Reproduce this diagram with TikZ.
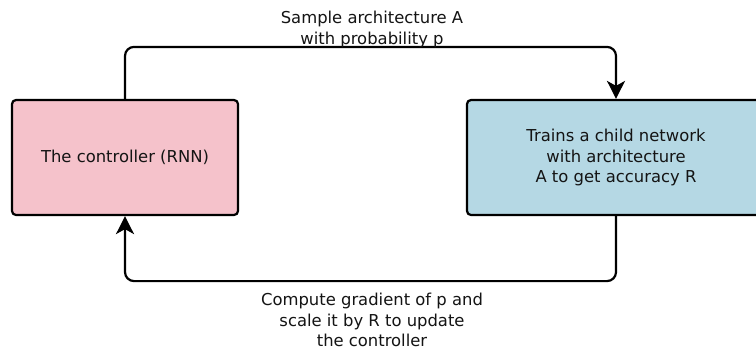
\documentclass[tikz,border=0pt]{standalone}
\usepackage{fontspec}
\setmainfont{DejaVu Sans}
\usetikzlibrary{arrows.meta}
\definecolor{pinkfill}{RGB}{245,194,203}
\definecolor{bluefill}{RGB}{181,216,228}
\definecolor{inkcol}{RGB}{20,20,20}
\tikzset{
  box/.style={draw=black, line width=2.2bp, rounded corners=4bp, inner sep=0pt,
    minimum height=115bp, align=center, text=inkcol,
    font=\fontsize{16.4bp}{20.5bp}\selectfont},
  conn/.style={draw=black, line width=2.2bp, rounded corners=9bp,
    -{Stealth[length=18bp,width=18bp,inset=5bp]}},
  lbl/.style={align=center, inner sep=0pt, text=inkcol,
    font=\fontsize{16.4bp}{20.5bp}\selectfont}
}
\begin{document}
\begin{tikzpicture}[x=1bp,y=-1bp]
\clip (0,0) rectangle (756,349);
\fill[white] (0,0) rectangle (756,349);
\node[box, fill=pinkfill, minimum width=226bp] (ctrl) at (125,157.5) {The controller (RNN)};
\node[box, fill=bluefill, minimum width=298bp] (child) at (616,157.5) {Trains a child network\\with architecture\\A to get accuracy R};
\draw[conn] (ctrl.north) -- ++(0,-52) -| (child.north);
\draw[conn] (child.south) -- ++(0,65) -| (ctrl.south);
\node[lbl, anchor=base] (toplbl) at (372,44) {Sample architecture A\\with probability p};
\node[lbl, anchor=base] (botlbl) at (372,346.5) {Compute gradient of p and\\scale it by R to update\\the controller};
\end{tikzpicture}
\end{document}
